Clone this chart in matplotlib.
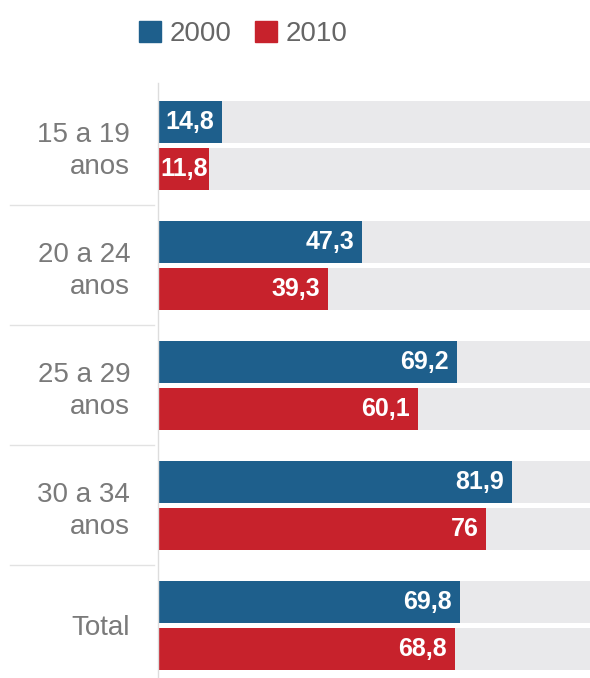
import matplotlib.pyplot as plt
from matplotlib.patches import Patch
from matplotlib.lines import Line2D
import matplotlib.transforms as mtransforms

plt.rcParams['font.family'] = ['Liberation Sans', 'DejaVu Sans']

# dados
categorias = ["15 a 19\nanos", "20 a 24\nanos", "25 a 29\nanos", "30 a 34\nanos", "Total"]
valores_2000 = [14.8, 47.3, 69.2, 81.9, 69.8]
valores_2010 = [11.8, 39.3, 60.1, 76.0, 68.8]
rotulos_2000 = ["14,8", "47,3", "69,2", "81,9", "69,8"]
rotulos_2010 = ["11,8", "39,3", "60,1", "76", "68,8"]
serie_nomes = ["2000", "2010"]
escala_max = 100

azul = "#1e5f8c"
vermelho = "#c7222c"
cinza_fundo = "#e9e9eb"
cinza_texto = "#7a7a7a"

W, H = 590, 678
fig = plt.figure(figsize=(W / 100, H / 100), dpi=100)
ax = fig.add_axes([158 / W, 0, (W - 158) / W, 1 - 83 / H])

ys = list(range(len(categorias)))
off = 0.196
alt = 0.35

for i in ys:
    for dy in (-off, off):
        ax.barh(i + dy, escala_max, height=alt, color=cinza_fundo, zorder=1)

ax.barh([y - off for y in ys], valores_2000, height=alt, color=azul, zorder=2)
ax.barh([y + off for y in ys], valores_2010, height=alt, color=vermelho, zorder=2)

dentro = mtransforms.offset_copy(ax.transData, fig=fig, x=-8, y=0, units='dots')
inicio = mtransforms.offset_copy(ax.transData, fig=fig, x=2, y=0, units='dots')


def rotular(y, v, t):
    # barras curtas: texto encostado no inicio da barra
    if v < 13:
        ax.text(0, y, t, ha='left', va='center', color='white', fontsize=18,
                fontweight='bold', transform=inicio, zorder=3)
    else:
        ax.text(v, y, t, ha='right', va='center', color='white', fontsize=18,
                fontweight='bold', transform=dentro, zorder=3)


for y, v, t in zip(ys, valores_2000, rotulos_2000):
    rotular(y - off, v, t)
for y, v, t in zip(ys, valores_2010, rotulos_2010):
    rotular(y + off, v, t)

ax.set_xlim(0, escala_max)
ax.set_ylim(4.44, -0.517)
ax.set_xticks([])
ax.set_yticks(ys)
ax.set_yticklabels(categorias, fontsize=20, color=cinza_texto, linespacing=1.3,
                   ha='right', multialignment='right')
ax.tick_params(axis='y', length=0, pad=20)
for s in ['top', 'right', 'bottom']:
    ax.spines[s].set_visible(False)
ax.spines['left'].set_color('#dddddd')
ax.spines['left'].set_linewidth(1)

# linhas separadoras entre grupos
sep = mtransforms.blended_transform_factory(fig.transFigure, ax.transData)
for i in ys[:-1]:
    fig.add_artist(Line2D([10 / W, 154 / W], [i + 0.5, i + 0.5], transform=sep,
                          color='#e2e2e2', lw=1))

handles = [Patch(color=azul, label=serie_nomes[0]), Patch(color=vermelho, label=serie_nomes[1])]
fig.legend(handles=handles, loc='center left', bbox_to_anchor=(139 / W, 1 - 34 / H),
           ncol=2, frameon=False, fontsize=20, handlelength=0.8, handleheight=0.8,
           handletextpad=0.3, columnspacing=0.85, labelcolor='#666666',
           borderpad=0, borderaxespad=0)

fig.savefig('out.png', dpi=100, facecolor='white')
